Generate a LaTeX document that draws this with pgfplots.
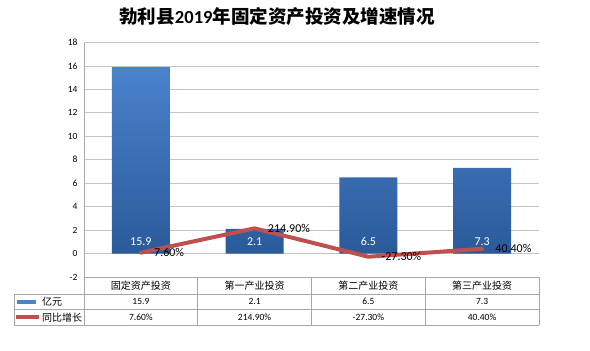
\documentclass[border=0pt]{standalone}
\usepackage{pgfplots}
\pgfplotsset{compat=1.18}
\usepackage{fontspec}
\setmainfont{Carlito}
\newfontfamily\cjk{Noto Sans CJK SC}
\definecolor{barTop}{HTML}{4A82CC}
\definecolor{barBot}{HTML}{2A5A9A}
\definecolor{lineRed}{HTML}{C0504D}
\definecolor{gridc}{HTML}{C4C4C4}
\definecolor{tablec}{HTML}{A6A6A6}
\begin{document}
\begin{tikzpicture}
\path (0,0) rectangle (590pt,-351pt);
\node[font=\cjk\bfseries\fontsize{18.5}{20}\selectfont, anchor=center] at (277pt,-16pt) {勃利县{\fontspec{Carlito}\bfseries 2019}年固定资产投资及增速情况};
\begin{axis}[
  at={(84pt,-277pt)}, anchor=south west,
  scale only axis, width=455pt, height=234.5pt,
  xmin=0.5, xmax=4.5, ymin=-2, ymax=18,
  ytick={-2,0,...,18}, xtick=\empty,
  ymajorgrids, grid style={gridc, line width=0.8pt},
  axis x line=none, axis y line*=left,
  y axis line style={tablec, line width=0.8pt, -},
  major tick length=0pt,
  yticklabel style={font=\fontsize{9.5}{10}\selectfont, xshift=-3pt},
  /pgf/number format/assume math mode=true,
  clip=false,
]
\addplot[ybar, bar width=58pt, draw=none, top color=barTop, bottom color=barBot]
  coordinates {(1,15.9) (2,2.1) (3,6.5) (4,7.3)};
\addplot[lineRed, line width=4pt, line join=round, line cap=round,
  nodes near coords, point meta=explicit symbolic,
  every node near coord/.style={anchor=west, xshift=8pt, font=\fontsize{12}{12}\selectfont, text=black}]
  coordinates {(1,0.076)[7.60\%] (2,2.149)[214.90\%] (3,-0.273)[-27.30\%] (4,0.404)[40.40\%]};
\node[text=white, font=\fontsize{12}{12}\selectfont] at (axis cs:1,1) {15.9};
\node[text=white, font=\fontsize{12}{12}\selectfont] at (axis cs:2,1) {2.1};
\node[text=white, font=\fontsize{12}{12}\selectfont] at (axis cs:3,1) {6.5};
\node[text=white, font=\fontsize{12}{12}\selectfont] at (axis cs:4,1) {7.3};
\end{axis}
% table
\begin{scope}[tablec, line width=0.8pt]
\draw (84pt,-277pt) -- (539pt,-277pt);
\draw (14pt,-294pt) -- (539pt,-294pt);
\draw (14pt,-309.5pt) -- (539pt,-309.5pt);
\draw (14pt,-325pt) -- (539pt,-325pt);
\draw (14pt,-294pt) -- (14pt,-325pt);
\draw (84pt,-277pt) -- (84pt,-325pt);
\draw (197.75pt,-277pt) -- (197.75pt,-325pt);
\draw (311.5pt,-277pt) -- (311.5pt,-325pt);
\draw (425.25pt,-277pt) -- (425.25pt,-325pt);
\draw (539pt,-277pt) -- (539pt,-325pt);
\end{scope}
\begin{scope}[every node/.style={font=\cjk\fontsize{10}{10}\selectfont, text=black, inner sep=0pt}]
\node at (140.9pt,-285.7pt) {固定资产投资};
\node at (254.6pt,-285.7pt) {第一产业投资};
\node at (368.4pt,-285.7pt) {第二产业投资};
\node at (482.1pt,-285.7pt) {第三产业投资};
\node[anchor=west] at (42pt,-301.7pt) {亿元};
\node[anchor=west] at (42pt,-317.2pt) {同比增长};
\end{scope}
\fill[barTop] (17pt,-300pt) rectangle (36pt,-303.5pt);
\draw[lineRed, line width=3.5pt] (16pt,-317.2pt) -- (39pt,-317.2pt);
\begin{scope}[every node/.style={font=\fontsize{9.5}{10}\selectfont, text=black, inner sep=0pt}]
\node at (140.9pt,-301.7pt) {15.9};
\node at (254.6pt,-301.7pt) {2.1};
\node at (368.4pt,-301.7pt) {6.5};
\node at (482.1pt,-301.7pt) {7.3};
\node at (140.9pt,-317.2pt) {7.60\%};
\node at (254.6pt,-317.2pt) {214.90\%};
\node at (368.4pt,-317.2pt) {-27.30\%};
\node at (482.1pt,-317.2pt) {40.40\%};
\end{scope}
\end{tikzpicture}
\end{document}
